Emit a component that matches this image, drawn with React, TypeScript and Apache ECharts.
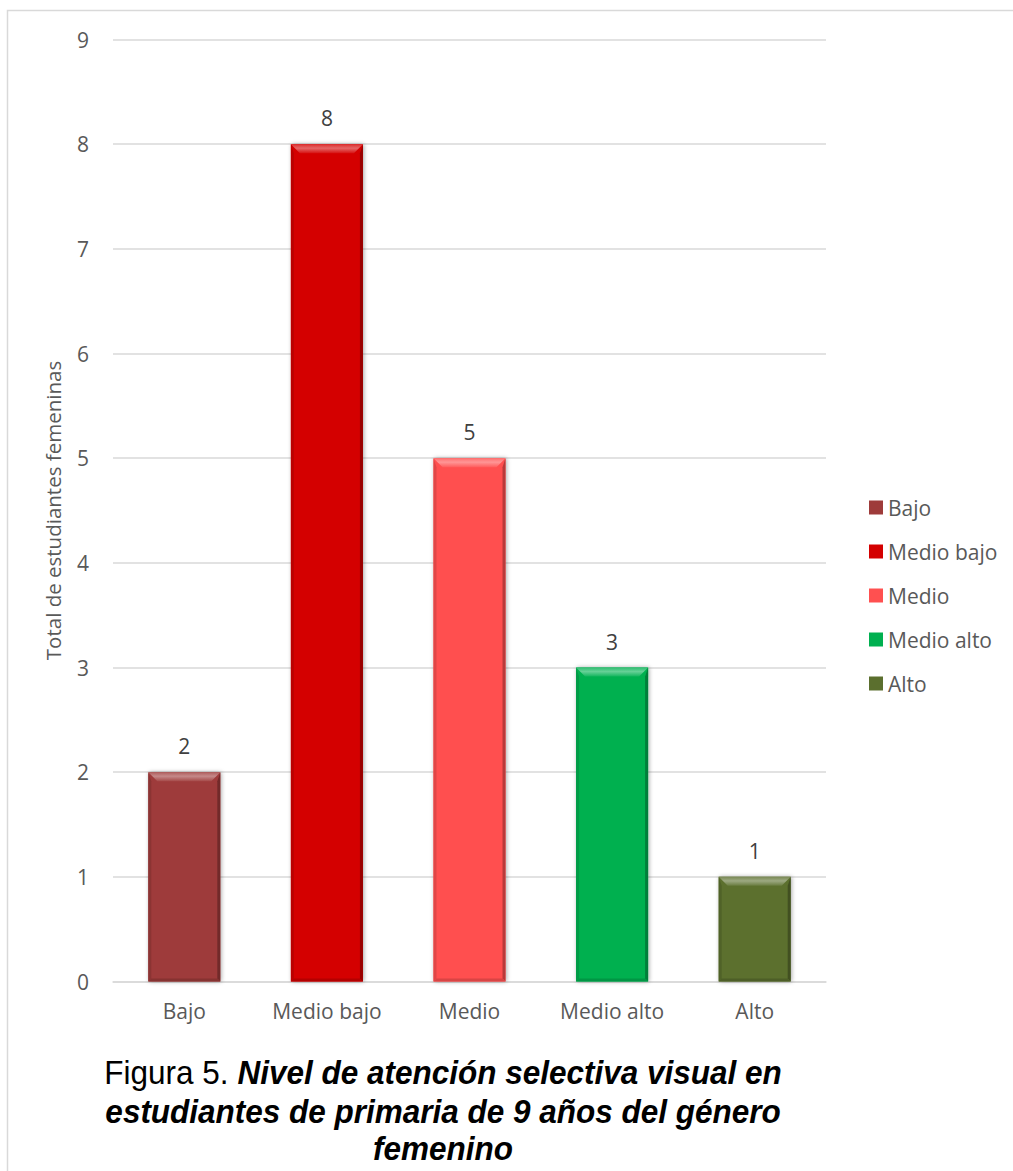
import React, { useEffect, useRef } from "react";
import * as echarts from "echarts";

// Categories and counts
const categories = ["Bajo", "Medio bajo", "Medio", "Medio alto", "Alto"];
const counts = [2, 8, 5, 3, 1];
const barColors = ["#9E3B3A", "#D40000", "#FF5050", "#00B050", "#5B6F2E"];
const yTicks = { min: 0, max: 9, interval: 1 };

const axisName = "Total de estudiantes femeninas";
const captionPrefix = "Figura 5. ";
const captionLines = [
  "Nivel de atención selectiva visual en",
  "estudiantes de primaria de 9 años del género",
  "femenino",
];

const UI_FONT = "'Open Sans', 'Liberation Sans', sans-serif";
const CAPTION_FONT = "'Liberation Sans', Arial, sans-serif";
const LABEL_SIZE = 21;

function mix(hex: string, target: string, t: number): string {
  const p = (h: string) => [1, 3, 5].map((i) => parseInt(h.slice(i, i + 2), 16));
  const a = p(hex);
  const b = p(target);
  const c = a.map((v, i) => Math.round(v + (b[i] - v) * t));
  return "#" + c.map((v) => v.toString(16).padStart(2, "0")).join("");
}

// Bevelled bar: flat face with a lighter top chamfer and darker side/bottom edges
function bevelBar(color: string) {
  return (params: any, api: any) => {
    const idx = api.value(0);
    const val = api.value(1);
    const top = api.coord([idx, val]);
    const bot = api.coord([idx, 0]);
    const w = api.size([1, 0])[0] * 0.505;
    const x0 = top[0] - w / 2;
    const x1 = top[0] + w / 2;
    const yT = top[1];
    const yB = bot[1];
    const b = 9;
    const s = 3;
    const light = mix(color, "#ffffff", 0.4);
    const mid = mix(color, "#ffffff", 0.18);
    const dark = mix(color, "#000000", 0.28);
    return {
      type: "group",
      children: [
        {
          type: "rect",
          shape: { x: x0, y: yT, width: w, height: yB - yT },
          style: {
            fill: color,
            shadowColor: "rgba(0,0,0,0.35)",
            shadowBlur: 4,
            shadowOffsetX: 1,
            shadowOffsetY: 0,
          },
        },
        {
          type: "polygon",
          shape: { points: [[x0, yT], [x1, yT], [x1 - b, yT + b], [x0 + b, yT + b]] },
          style: {
            fill: new echarts.graphic.LinearGradient(0, 0, 0, 1, [
              { offset: 0, color: mid },
              { offset: 0.45, color: light },
              { offset: 1, color: mix(color, "#ffffff", 0.08) },
            ]),
          },
        },
        {
          type: "polygon",
          shape: { points: [[x0, yT], [x0 + s, yT + b], [x0 + s, yB - s], [x0, yB]] },
          style: { fill: mix(color, "#000000", 0.12) },
        },
        {
          type: "polygon",
          shape: { points: [[x1, yT], [x1, yB], [x1 - s, yB - s], [x1 - s, yT + b]] },
          style: { fill: dark },
        },
        {
          type: "polygon",
          shape: { points: [[x0, yB], [x1, yB], [x1 - s, yB - s], [x0 + s, yB - s]] },
          style: { fill: mix(color, "#000000", 0.15) },
        },
        {
          type: "text",
          style: {
            text: String(val),
            x: top[0],
            y: yT - 26,
            textAlign: "center",
            textVerticalAlign: "middle",
            fill: "#404040",
            font: `${LABEL_SIZE}px ${UI_FONT}`,
          },
        },
      ],
    };
  };
}

export default function App() {
  const ref = useRef<HTMLDivElement>(null);

  useEffect(() => {
    if (!ref.current) return;
    const chart = echarts.init(ref.current, null, { renderer: "svg" });

    const series = categories.map((name, i) => ({
      name,
      type: "custom",
      renderItem: bevelBar(barColors[i]),
      itemStyle: { color: barColors[i] },
      encode: { x: 0, y: 1 },
      data: [[i, counts[i]]],
      z: 3,
    }));

    const captionFont = `italic bold 31.5px ${CAPTION_FONT}`;
    const captionLine = (y: number, text: string, rich?: any) => ({
      type: "text",
      x: 443,
      y,
      scaleY: 1.06,
      style: {
        x: 0,
        y: 0,
        textAlign: "center",
        textVerticalAlign: "middle",
        text,
        font: captionFont,
        fill: "#000",
        ...(rich ? { rich } : {}),
      },
    });

    chart.setOption({
      animation: false,
      backgroundColor: "#ffffff",
      grid: { left: 113, right: 187, top: 39.5, bottom: 189.5, containLabel: false },
      xAxis: {
        type: "category",
        data: categories,
        axisLine: { lineStyle: { color: "#d9d9d9", width: 1.5 } },
        axisTick: { show: false },
        axisLabel: { color: "#595959", fontSize: LABEL_SIZE, fontFamily: UI_FONT, margin: 19 },
      },
      yAxis: {
        type: "value",
        min: yTicks.min,
        max: yTicks.max,
        interval: yTicks.interval,
        name: axisName,
        nameLocation: "middle",
        nameGap: 50,
        nameTextStyle: { color: "#595959", fontSize: 20.5, fontFamily: UI_FONT },
        axisLine: { show: false },
        axisTick: { show: false },
        axisLabel: { color: "#595959", fontSize: LABEL_SIZE, fontFamily: UI_FONT, margin: 24 },
        splitLine: { lineStyle: { color: "#d9d9d9", width: 1.5 } },
      },
      legend: {
        orient: "vertical",
        left: 864,
        top: 492,
        itemWidth: 14,
        itemHeight: 14,
        itemGap: 23,
        icon: "rect",
        textStyle: { color: "#595959", fontSize: LABEL_SIZE, fontFamily: UI_FONT, padding: [0, 0, 0, 0] },
        data: categories,
      },
      series,
      graphic: [
        {
          type: "rect",
          silent: true,
          shape: { x: 7.5, y: 10.5, width: 1200, height: 1400 },
          style: { fill: "none", stroke: "#d9d9d9", lineWidth: 1.5 },
        },
        captionLine(1073, `{r|${captionPrefix}}{b|${captionLines[0]}}`, {
          r: { font: `31.5px ${CAPTION_FONT}`, fill: "#000" },
          b: { font: captionFont, fill: "#000" },
        }),
        captionLine(1112, captionLines[1]),
        captionLine(1149, captionLines[2]),
      ],
    });

    return () => chart.dispose();
  }, []);

  return (
    <div
      ref={ref}
      style={{ position: "absolute", left: 0, top: 0, width: 1013, height: 1171 }}
    />
  );
}
